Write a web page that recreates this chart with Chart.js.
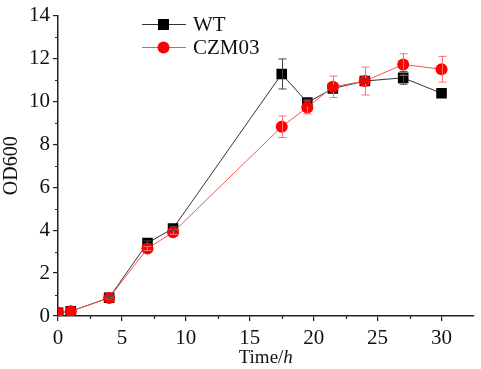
<!DOCTYPE html>
<html>
<head>
<meta charset="utf-8">
<script src="https://cdn.jsdelivr.net/npm/chart.js@4.4.1/dist/chart.umd.min.js"></script>
<style>
  html, body { margin: 0; padding: 0; background: #fff; }
  #wrap { width: 481px; height: 369px; }
</style>
</head>
<body>
<div id="wrap"><canvas id="growthChart"></canvas></div>
<script>
// ── growth curve – WT vs CZM03 ──
const hours = [0, 1, 4, 7, 9, 17.5, 19.5, 21.5, 24, 27, 30];
const wtOD = [0.15, 0.22, 0.85, 3.4, 4.08, 11.28, 9.95, 10.6, 10.95, 11.1, 10.38];
const wtErr = [0, 0, 0.05, 0.1, 0.1, 0.7, 0.15, 0.15, 0.1, 0.3, 0];
const czmOD = [0.15, 0.22, 0.84, 3.15, 3.9, 8.82, 9.72, 10.68, 10.95, 11.72, 11.5];
const czmErr = [0, 0, 0.05, 0.1, 0.1, 0.5, 0.3, 0.5, 0.65, 0.5, 0.6];
const xTicks = [0, 5, 10, 15, 20, 25, 30];
const yTicks = [0, 2, 4, 6, 8, 10, 12, 14];

const FONT = '"Liberation Serif", "Times New Roman", serif';
const toPts = (ys) => hours.map((h, i) => ({ x: h, y: ys[i] }));

const errorBars = {
  id: 'errorBars',
  afterDatasetsDraw(chart) {
    const ctx = chart.ctx, x = chart.scales.x, y = chart.scales.y;
    chart.data.datasets.forEach((ds) => {
      ctx.save();
      ctx.strokeStyle = ds.errColor;
      ctx.lineWidth = 1;
      ds.data.forEach((p, i) => {
        const e = ds.err[i];
        if (!e) return;
        const px = Math.round(x.getPixelForValue(p.x)) + 0.5;
        const hi = y.getPixelForValue(p.y + e), lo = y.getPixelForValue(p.y - e);
        ctx.beginPath();
        ctx.moveTo(px, hi); ctx.lineTo(px, lo);
        ctx.moveTo(px - 4, hi); ctx.lineTo(px + 4, hi);
        ctx.moveTo(px - 4, lo); ctx.lineTo(px + 4, lo);
        ctx.stroke();
      });
      ctx.restore();
    });
  }
};

const extras = {
  id: 'extras',
  afterDraw(chart) {
    const ctx = chart.ctx, x = chart.scales.x, y = chart.scales.y, a = chart.chartArea;
    ctx.save();
    // minor ticks
    ctx.strokeStyle = '#222';
    ctx.lineWidth = 1.2;
    ctx.beginPath();
    for (let v = 2.5; v < x.max; v += 5) {
      const px = Math.round(x.getPixelForValue(v)) + 0.5;
      ctx.moveTo(px, a.bottom); ctx.lineTo(px, a.bottom + 3);
    }
    for (let v = 1; v < y.max; v += 2) {
      const py = Math.round(y.getPixelForValue(v)) + 0.5;
      ctx.moveTo(a.left, py); ctx.lineTo(a.left - 3, py);
    }
    ctx.stroke();

    // x title with italic unit
    ctx.fillStyle = '#111';
    ctx.textBaseline = 'alphabetic';
    const t1 = 'Time/';
    ctx.font = 'italic 19px ' + FONT;
    const w2 = ctx.measureText('h').width;
    ctx.font = '19px ' + FONT;
    const w1 = ctx.measureText(t1).width;
    const cx = (a.left + a.right) / 2;
    const sx = cx - (w1 + w2) / 2;
    ctx.fillText(t1, sx, 363);
    ctx.font = 'italic 19px ' + FONT;
    ctx.fillText('h', sx + w1, 363);

    // legend
    const rows = [chart.data.datasets[1], chart.data.datasets[0]];
    rows.forEach((ds, i) => {
      const ly = 24 + i * 23;
      ctx.strokeStyle = ds.borderColor;
      ctx.lineWidth = 1;
      ctx.beginPath();
      ctx.moveTo(142, ly + 0.5); ctx.lineTo(186, ly + 0.5);
      ctx.stroke();
      ctx.fillStyle = ds.pointBackgroundColor;
      if (ds.pointStyle === 'rect') {
        ctx.fillRect(158, ly - 5, 11, 11);
      } else {
        ctx.beginPath();
        ctx.arc(163.5, ly + 0.5, 6, 0, Math.PI * 2);
        ctx.fill();
      }
      ctx.fillStyle = '#111';
      ctx.font = '21px ' + FONT;
      ctx.textBaseline = 'middle';
      ctx.fillText(ds.label, 193, ly + 1);
    });
    ctx.restore();
  }
};

new Chart(document.getElementById('growthChart').getContext('2d'), {
  type: 'line',
  data: {
    datasets: [
      { label: 'CZM03', data: toPts(czmOD), err: czmErr, errColor: '#ff6f6f', borderColor: '#ff5050', borderWidth: 1, tension: 0, pointStyle: 'circle', pointRadius: 6, pointBackgroundColor: '#ff0000', pointBorderColor: '#ff0000', pointBorderWidth: 0 },
      { label: 'WT', data: toPts(wtOD), err: wtErr, errColor: '#444', borderColor: '#333', borderWidth: 1, tension: 0, pointStyle: 'rect', pointRadius: 7.5, pointBackgroundColor: '#000', pointBorderColor: '#000', pointBorderWidth: 0 }
    ]
  },
  options: {
    responsive: true, maintainAspectRatio: false, animation: false,
    layout: { padding: { top: 12, right: 7, left: 0, bottom: 0 } },
    plugins: { legend: { display: false }, tooltip: { enabled: false } },
    scales: {
      x: {
        type: 'linear', min: 0, max: 32.5,
        afterBuildTicks: (s) => { s.ticks = xTicks.map((v) => ({ value: v })); },
        afterFit: (s) => { s.height = 53; },
        border: { color: '#222', width: 1.5 },
        grid: { drawOnChartArea: false, tickLength: 5, color: '#222', lineWidth: 1.2 },
        ticks: { font: { family: FONT, size: 21 }, color: '#111', padding: 5, maxRotation: 0 }
      },
      y: {
        min: 0, max: 14,
        afterBuildTicks: (s) => { s.ticks = yTicks.map((v) => ({ value: v })); },
        afterFit: (s) => { s.width = 58; },
        border: { color: '#222', width: 1.5 },
        grid: { drawOnChartArea: false, tickLength: 5, color: '#222', lineWidth: 1.2 },
        title: { display: true, text: 'OD600', font: { family: FONT, size: 20 }, color: '#111', padding: 0 },
        ticks: { font: { family: FONT, size: 21 }, color: '#111', padding: 3 }
      }
    }
  },
  plugins: [errorBars, extras]
});
</script>
</body>
</html>
